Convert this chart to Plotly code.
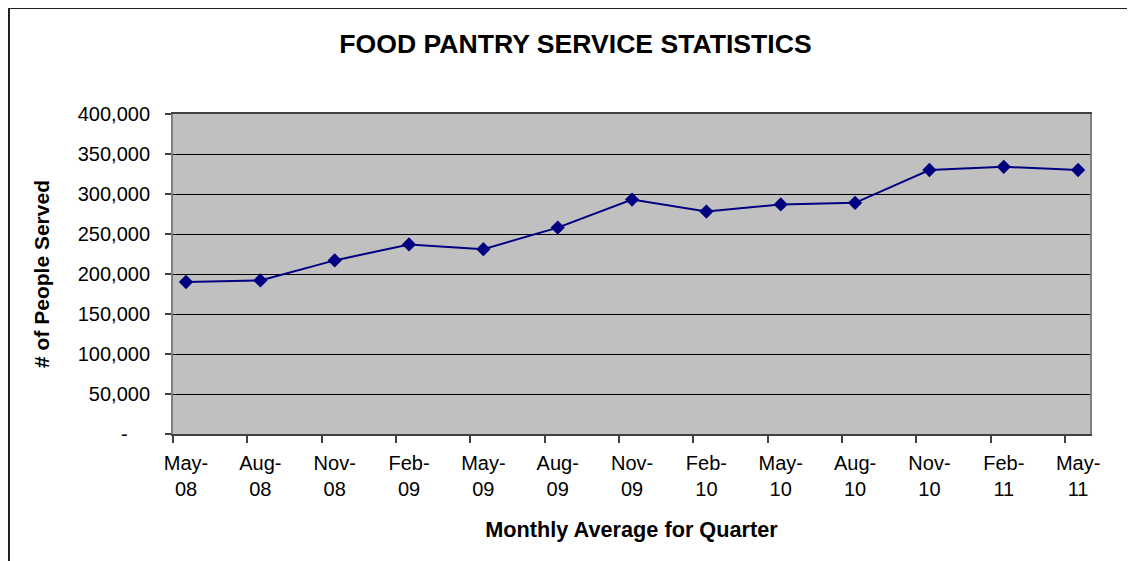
import plotly.graph_objects as go

# ---- data ----
quarters = ["May-08", "Aug-08", "Nov-08", "Feb-09", "May-09", "Aug-09", "Nov-09",
            "Feb-10", "May-10", "Aug-10", "Nov-10", "Feb-11", "May-11"]
people_served = [190000, 192000, 217000, 237000, 231000, 258000, 293000,
                 278000, 287000, 289000, 330000, 334000, 330000]
y_ticks = [0, 50000, 100000, 150000, 200000, 250000, 300000, 350000, 400000]
y_tick_text = ["-\u00a0\u00a0\u00a0\u00a0", "50,000", "100,000", "150,000", "200,000",
               "250,000", "300,000", "350,000", "400,000"]

# page body has an 8px margin, so the figure is sized to fit the window
OFF = 8
W, H = 1135 - OFF, 561 - OFF
ML = 173 - OFF
MT = 114 - OFF
MR = W - (1090 - OFF)
MB = H - (434 - OFF)
FONT = "Arial, Liberation Sans, sans-serif"

idx = list(range(len(quarters)))
tick_offset = 0.175  # tick marks sit at the start of each month, points mid-month
tick_text = [q.replace("-", "-<br>") for q in quarters]

fig = go.Figure()
fig.add_trace(go.Scatter(
    x=idx, y=people_served, mode="lines+markers",
    line=dict(color="#000080", width=2),
    marker=dict(symbol="diamond", size=11, color="#000080"),
    showlegend=False, cliponaxis=False,
))

pw = W - ML - MR
ph = H - MT - MB


def px_to_paper_x(px):
    return (px - OFF - ML) / pw


def px_to_paper_y(py):
    return (H - MB - (py - OFF)) / ph


fig.update_layout(
    width=W, height=H,
    margin=dict(l=ML, r=MR, t=MT, b=MB, pad=0),
    paper_bgcolor="white",
    plot_bgcolor="#C0C0C0",
    font=dict(family=FONT, color="black", size=20),
    title=dict(text="<b>FOOD PANTRY SERVICE STATISTICS</b>",
               font=dict(size=26.6, family=FONT, color="black"),
               x=(575.5 - OFF) / W, xanchor="center",
               y=1 - (44 - OFF) / H, yanchor="middle"),
    xaxis=dict(
        range=[-tick_offset, 12.16],
        tickmode="array", tickvals=idx, ticktext=tick_text,
        ticks="", showgrid=False, zeroline=False,
        showline=True, linecolor="#404040", linewidth=2, mirror=True,
        tickfont=dict(size=20, family=FONT),
        ticklabelstandoff=10,
        minor=dict(tickmode="array", tickvals=[i - tick_offset for i in idx],
                   ticks="outside", ticklen=7, tickwidth=1.5, tickcolor="#404040",
                   showgrid=False),
        title=dict(text="<b>Monthly Average for Quarter</b>",
                   font=dict(size=21.7, family=FONT), standoff=23),
    ),
    yaxis=dict(
        range=[0, 400000],
        tickmode="array", tickvals=y_ticks, ticktext=y_tick_text,
        ticks="outside", ticklen=6, tickcolor="#404040", tickwidth=1.5,
        showgrid=True, gridcolor="black", gridwidth=1,
        zeroline=False,
        showline=True, linecolor="#808080", linewidth=2, mirror=True,
        tickfont=dict(size=20, family=FONT),
        ticklabelstandoff=11,
        title=dict(text="<b># of People Served</b>",
                   font=dict(size=21, family=FONT), standoff=22),
    ),
    shapes=[dict(type="rect", xref="paper", yref="paper",
                 x0=px_to_paper_x(9), x1=px_to_paper_x(1135 + 20),
                 y0=px_to_paper_y(561 + 20), y1=px_to_paper_y(8),
                 line=dict(color="#202020", width=2), layer="above")],
)

fig.write_html("out.html")
